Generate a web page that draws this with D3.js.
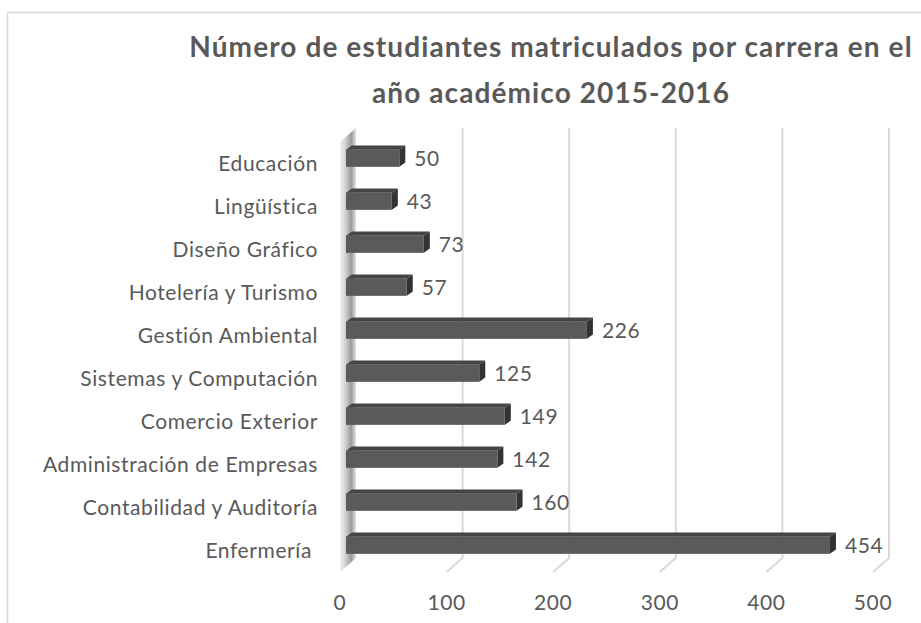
<!DOCTYPE html>
<html>
<head>
<meta charset="utf-8">
<script src="https://cdn.jsdelivr.net/npm/d3@7"></script>
<style>
  body { margin: 0; background: #fff; }
  text { font-family: Lato, "Open Sans", sans-serif; fill: #595959; }
</style>
</head>
<body>
<script>
const categories = ["Educación", "Lingüística", "Diseño Gráfico", "Hotelería y Turismo", "Gestión Ambiental",
  "Sistemas y Computación", "Comercio Exterior", "Administración de Empresas", "Contabilidad y Auditoría", "Enfermería "];
const values = [50, 43, 73, 57, 226, 125, 149, 142, 160, 454];
const xTicks = [0, 100, 200, 300, 400, 500];
const titleLines = ["Número de estudiantes matriculados por carrera en el", "año académico 2015-2016"];

const width = 921, height = 623;
// back wall of the 3D plot, and the offset from back to front of the floor
const depth = { dx: -16, dy: 14 };
const x = d3.scaleLinear().domain([0, 500]).range([356, 889]);
const y = d3.scaleBand().domain(categories).range([128, 558]).paddingInner(0).paddingOuter(0);

const svg = d3.select("body").append("svg")
    .attr("width", width)
    .attr("height", height);

// chart border (only left and top visible)
svg.append("path")
    .attr("d", `M7.5,${height} L7.5,12.5 L${width},12.5`)
    .attr("fill", "none")
    .attr("stroke", "#d9d9d9")
    .attr("stroke-width", 1.5);

// title
svg.append("g").selectAll("text")
    .data(titleLines)
    .enter().append("text")
    .attr("x", 551)
    .attr("y", (d, i) => 57 + i * 46)
    .attr("text-anchor", "middle")
    .attr("font-size", 28)
    .attr("font-weight", "bold")
    .attr("letter-spacing", 1.1)
    .text(d => d);

// gridlines on back wall plus their floor edges
const grid = svg.append("g");
xTicks.filter(t => t > 0).forEach(t => {
    grid.append("path")
        .attr("d", `M${x(t)},${y.range()[0]} L${x(t)},${y.range()[1]} L${x(t) + depth.dx},${y.range()[1] + depth.dy}`)
        .attr("fill", "none")
        .attr("stroke", "#d9d9d9")
        .attr("stroke-width", 2);
});

// side wall at value 0
const defs = svg.append("defs");
const wallGrad = defs.append("linearGradient").attr("id", "wall")
    .attr("x1", "0%").attr("x2", "100%").attr("y1", "0%").attr("y2", "0%");
wallGrad.append("stop").attr("offset", "0%").attr("stop-color", "#f2f2f2");
wallGrad.append("stop").attr("offset", "35%").attr("stop-color", "#d0d0d0");
wallGrad.append("stop").attr("offset", "70%").attr("stop-color", "#9a9a9a");
wallGrad.append("stop").attr("offset", "100%").attr("stop-color", "#e6e6e6");
const x0 = x(0), yt = y.range()[0], yb = y.range()[1];
svg.append("path")
    .attr("d", `M${x0},${yt} L${x0 + depth.dx},${yt + depth.dy} L${x0 + depth.dx},${yb + depth.dy} L${x0},${yb} Z`)
    .attr("fill", "url(#wall)");

// bars: front face sits part way into the depth, with a side and a top face
const barH = y.bandwidth() / 2.5;
const fr = { dx: -10, dy: 8.75 };   // front face offset from back wall
const bk = { dx: -4, dy: 4.5 };     // back of bar offset from back wall
const bars = svg.append("g").selectAll("g")
    .data(categories.map((c, i) => ({ c, v: values[i] })))
    .enter().append("g");

bars.each(function (d) {
    const g = d3.select(this);
    const cy = y(d.c) + y.bandwidth() / 2;
    const fx0 = x(0) + fr.dx, fx1 = x(d.v) + fr.dx;
    const fy0 = cy - barH / 2 + fr.dy, fy1 = cy + barH / 2 + fr.dy;
    const ox = bk.dx - fr.dx, oy = bk.dy - fr.dy;
    // top face
    g.append("path")
        .attr("d", `M${fx0},${fy0} L${fx1},${fy0} L${fx1 + ox},${fy0 + oy} L${fx0 + ox},${fy0 + oy} Z`)
        .attr("fill", "#454545");
    // side face
    g.append("path")
        .attr("d", `M${fx1},${fy0} L${fx1 + ox},${fy0 + oy} L${fx1 + ox},${fy1 + oy} L${fx1},${fy1} Z`)
        .attr("fill", "#333333");
    // front face
    g.append("rect")
        .attr("x", fx0).attr("y", fy0)
        .attr("width", fx1 - fx0).attr("height", fy1 - fy0)
        .attr("fill", "#5a5a5a");
    // value label
    g.append("text")
        .attr("x", fx1 + ox + 9)
        .attr("y", cy + fr.dy + 7.5)
        .attr("font-size", 21)
        .attr("letter-spacing", 0.6)
        .text(d.v);
});

// category labels on the front plane
svg.append("g").selectAll("text")
    .data(categories)
    .enter().append("text")
    .attr("x", 318)
    .attr("y", d => y(d) + y.bandwidth() / 2 + depth.dy + 7.5)
    .attr("text-anchor", "end")
    .attr("font-size", 21)
    .attr("letter-spacing", 0.6)
    .style("white-space", "pre")
    .text(d => d);

// value axis labels on the front edge of the floor
svg.append("g").selectAll("text")
    .data(xTicks)
    .enter().append("text")
    .attr("x", d => x(d) + depth.dx)
    .attr("y", 610)
    .attr("text-anchor", "middle")
    .attr("font-size", 21)
    .attr("letter-spacing", 0.6)
    .text(d => d);
</script>
</body>
</html>
